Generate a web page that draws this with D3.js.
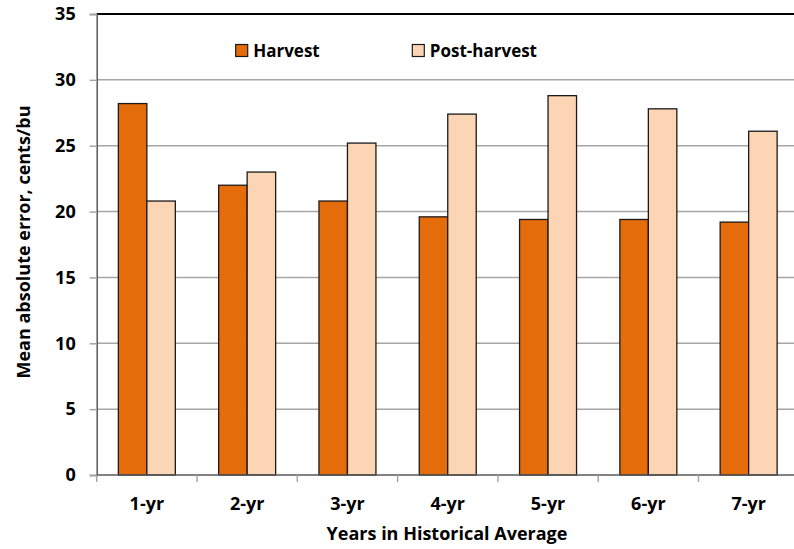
<!DOCTYPE html>
<html>
<head>
<meta charset="utf-8">
<script src="https://cdn.jsdelivr.net/npm/d3@7"></script>
<style>
  html, body { margin: 0; padding: 0; background: #fff; }
  text { font-family: "Open Sans", sans-serif; font-weight: bold; fill: #000; }
</style>
</head>
<body>
<div id="chart"></div>
<script>
// data
const categories = ["1-yr", "2-yr", "3-yr", "4-yr", "5-yr", "6-yr", "7-yr"];
const seriesNames = ["Harvest", "Post-harvest"];
const harvest = [28.2, 22.0, 20.8, 19.6, 19.4, 19.4, 19.2];
const postHarvest = [20.8, 23.0, 25.2, 27.4, 28.8, 27.8, 26.1];
const yTicks = [0, 5, 10, 15, 20, 25, 30, 35];

const colors = {"Harvest": "#E46C0A", "Post-harvest": "#FCD5B5"};

const W = 794, H = 549;
const margin = {top: 14, left: 96.7, bottom: 74};
const plotRight = 798.8; // plot area runs off the right edge in the original
const FS = 18;   // axis text
const LFS = 17;  // legend text

const svg = d3.select('#chart').append('svg')
  .attr('width', W)
  .attr('height', H);

const x = d3.scaleBand()
  .domain(categories)
  .range([margin.left, plotRight])
  .paddingInner(0)
  .paddingOuter(0);

// bars sit in the middle ~57% of each band
const bw = x.bandwidth();
const xInner = d3.scaleBand()
  .domain(seriesNames)
  .range([bw * 0.216, bw * 0.784]);

const y = d3.scaleLinear()
  .domain([0, 35])
  .range([H - margin.bottom, margin.top]);

// grid lines
svg.append('g')
  .selectAll('line')
  .data(yTicks.filter(t => t > 0 && t < 35))
  .enter().append('line')
    .attr('x1', margin.left)
    .attr('x2', plotRight)
    .attr('y1', d => y(d))
    .attr('y2', d => y(d))
    .attr('stroke', '#A6A6A6')
    .attr('stroke-width', 1.5);

// top border of plot area
svg.append('line')
  .attr('x1', margin.left).attr('x2', plotRight)
  .attr('y1', y(35)).attr('y2', y(35))
  .attr('stroke', '#000').attr('stroke-width', 2);

// bars
const rows = categories.map((c, i) => ({cat: c, vals: [
  {name: "Harvest", v: harvest[i]},
  {name: "Post-harvest", v: postHarvest[i]}
]}));

svg.append('g')
  .selectAll('g')
  .data(rows)
  .enter().append('g')
    .attr('transform', d => 'translate(' + x(d.cat) + ',0)')
  .selectAll('rect')
  .data(d => d.vals)
  .enter().append('rect')
    .attr('x', d => xInner(d.name))
    .attr('y', d => y(d.v))
    .attr('width', xInner.bandwidth())
    .attr('height', d => y(0) - y(d.v))
    .attr('fill', d => colors[d.name])
    .attr('stroke', '#1a1a1a')
    .attr('stroke-width', 1.3);

// Y axis
const yAxis = svg.append('g')
  .attr('transform', 'translate(' + margin.left + ',0)')
  .call(d3.axisLeft(y).tickValues(yTicks).tickSize(7).tickPadding(14));
yAxis.select('.domain').attr('stroke', '#595959').attr('stroke-width', 1.5);
yAxis.selectAll('.tick line').attr('stroke', '#A6A6A6').attr('stroke-width', 1.5);
yAxis.selectAll('.tick text').attr('font-size', FS).attr('font-family', null);

// X axis
const xTickPos = d3.range(categories.length + 1).map(i => margin.left + i * bw);
const xAxis = svg.append('g')
  .attr('transform', 'translate(0,' + y(0) + ')');
xAxis.append('line')
  .attr('x1', margin.left).attr('x2', plotRight)
  .attr('stroke', '#595959').attr('stroke-width', 1.5);
xAxis.selectAll('.xtick')
  .data(xTickPos)
  .enter().append('line')
    .attr('class', 'xtick')
    .attr('x1', d => d).attr('x2', d => d)
    .attr('y1', 0).attr('y2', 7)
    .attr('stroke', '#A6A6A6').attr('stroke-width', 1.5);
xAxis.selectAll('.xlabel')
  .data(categories)
  .enter().append('text')
    .attr('class', 'xlabel')
    .attr('x', d => x(d) + bw / 2)
    .attr('y', 35)
    .attr('text-anchor', 'middle')
    .attr('font-size', FS)
    .text(d => d);

// axis titles
svg.append('text')
  .attr('x', 447)
  .attr('y', 540)
  .attr('text-anchor', 'middle')
  .attr('font-size', FS)
  .text('Years in Historical Average');

svg.append('text')
  .attr('transform', 'translate(30,242) rotate(-90)')
  .attr('text-anchor', 'middle')
  .attr('font-size', FS)
  .text('Mean absolute error, cents/bu');

// legend
const legendX = [235.7, 412.3];
const legend = svg.append('g');
seriesNames.forEach((name, i) => {
  legend.append('rect')
    .attr('x', legendX[i]).attr('y', 44.5)
    .attr('width', 12).attr('height', 12)
    .attr('fill', colors[name])
    .attr('stroke', '#1a1a1a').attr('stroke-width', 1.2);
  legend.append('text')
    .attr('x', legendX[i] + 17.5).attr('y', 57)
    .attr('font-size', LFS)
    .text(name);
});
</script>
</body>
</html>
